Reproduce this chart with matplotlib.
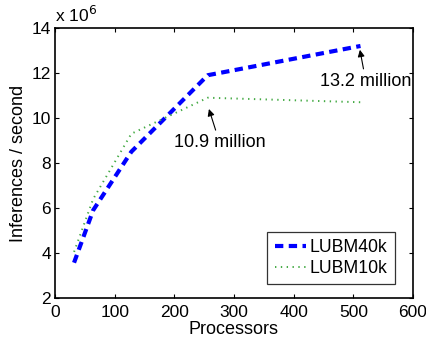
import matplotlib
matplotlib.use('Agg')
import matplotlib.pyplot as plt

plt.rcParams['font.family'] = ['Liberation Sans', 'DejaVu Sans']

# data (inferences per second, in millions)
procs = [32, 64, 128, 256, 512]
lubm40k = [3.57, 5.9, 8.5, 11.9, 13.2]
lubm10k = [4.05, 6.4, 9.3, 10.9, 10.7]

fig = plt.figure(figsize=(4.26, 3.41), dpi=100)
ax = fig.add_axes([0.129, 0.126, 0.8405, 0.792])

ax.plot(procs, lubm40k, color='#0000ff', linestyle=(0, (2.0, 1.3)), linewidth=3, label='LUBM40k')
ax.plot(procs, lubm10k, color='#44aa44', linestyle=(0, (0.7, 2.3)), linewidth=1.4, label='LUBM10k')

ax.set_xlim(0, 600)
ax.set_ylim(2, 14)
ax.set_xticks([0, 100, 200, 300, 400, 500, 600])
ax.set_yticks([2, 4, 6, 8, 10, 12, 14])
ax.tick_params(direction='in', top=True, right=True, length=3, width=0.8, labelsize=12.5)
ax.tick_params(axis='x', pad=5)
ax.tick_params(axis='y', pad=3)
for s in ax.spines.values():
    s.set_linewidth(1.2)

ax.set_xlabel('Processors', fontsize=13, labelpad=1)
ax.set_ylabel('Inferences / second', fontsize=13, labelpad=3)
ax.text(0.0, 1.012, r'x 10$^6$', transform=ax.transAxes, fontsize=12.5, ha='left', va='bottom')

ax.annotate('10.9 million', xy=(258, 10.4), xytext=(276, 8.9), fontsize=13, ha='center', va='center',
            arrowprops=dict(arrowstyle='-|>', color='black', lw=0.8, mutation_scale=10, shrinkA=1, shrinkB=0))
ax.annotate('13.2 million', xy=(511, 13.03), xytext=(521, 11.62), fontsize=13, ha='center', va='center',
            arrowprops=dict(arrowstyle='-|>', color='black', lw=0.8, mutation_scale=10, shrinkA=1, shrinkB=0))

leg = ax.legend(loc='lower right', fontsize=12.7, frameon=True, fancybox=False, edgecolor='black',
                handlelength=1.8, handletextpad=0.2, borderpad=0.4, labelspacing=0.25,
                borderaxespad=0, bbox_to_anchor=(0.949, 0.051))
leg.get_frame().set_linewidth(0.9)

fig.savefig('out.png', dpi=100)
